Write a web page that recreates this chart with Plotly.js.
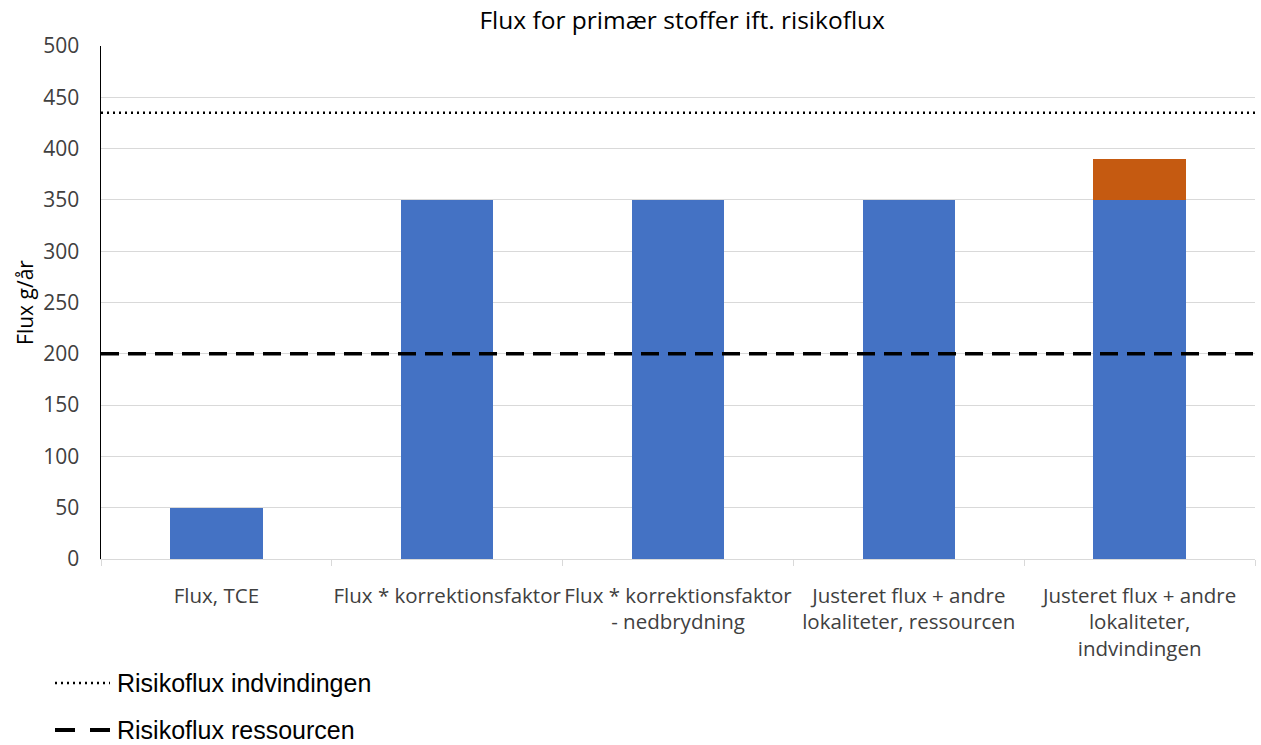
<!DOCTYPE html>
<html>
<head>
<meta charset="utf-8">
<script src="https://cdn.plot.ly/plotly-3.0.1.min.js"></script>
<style>html,body{margin:0;padding:0;background:#fff;}#chart{width:1261px;height:745px;}</style>
</head>
<body>
<div id="chart"></div>
<script>
const categories = [
  "Flux, TCE",
  "Flux * korrektionsfaktor",
  "Flux * korrektionsfaktor<br>- nedbrydning",
  "Justeret flux + andre<br>lokaliteter, ressourcen",
  "Justeret flux + andre<br>lokaliteter,<br>indvindingen"
];
const fluxValues = [50, 350, 350, 350, 350];
const extraValues = [0, 0, 0, 0, 40];
const risikofluxIndvindingen = 435;
const risikofluxRessourcen = 200;
const yTicks = [0, 50, 100, 150, 200, 250, 300, 350, 400, 450, 500];
const lineNames = ["Risikoflux indvindingen", "Risikoflux ressourcen"];

const FONT = "'Open Sans', 'Noto Sans', sans-serif";
const catFont = {family: FONT, size: 20.5, color: "#404040"};
const dotStyle = {color: "#000", width: 2.5, dash: "2px,4px"};
const dashStyle = {color: "#000", width: 3.5, dash: "18px,9px"};

const traces = [
  {type: "bar", x: categories, y: fluxValues, marker: {color: "#4472C4"}, width: 0.4, showlegend: false, hoverinfo: "y"},
  {type: "bar", x: categories, y: extraValues, marker: {color: "#C55A11"}, width: 0.4, showlegend: false, hoverinfo: "y"},
  {type: "scatter", mode: "lines", xaxis: "x2", yaxis: "y",
   x: [0, 1], y: [risikofluxIndvindingen, risikofluxIndvindingen],
   line: dotStyle, name: lineNames[0], showlegend: false},
  {type: "scatter", mode: "lines", xaxis: "x2", yaxis: "y",
   x: [0, 1], y: [risikofluxRessourcen, risikofluxRessourcen],
   line: dashStyle, name: lineNames[1], showlegend: false}
];

// Legend drawn below the plot (paper coordinates: plot spans x 101..1255 px, y 46..559 px)
const PW = 1154, PH = 513, PL = 101, PB = 559;
const px = v => (v - PL) / PW;
const py = v => (PB - v) / PH;
const legendRows = [683, 730];
const legendShapes = [
  {type: "line", xref: "paper", yref: "paper", x0: px(55), x1: px(110), y0: py(legendRows[0]), y1: py(legendRows[0]),
   line: {color: "#000", width: 2.5, dash: "2px,4px"}},
  {type: "line", xref: "paper", yref: "paper", x0: px(55), x1: px(110), y0: py(legendRows[1]), y1: py(legendRows[1]),
   line: {color: "#000", width: 4, dash: "20px,15px"}}
];
const legendAnnotations = lineNames.map((n, i) => ({
  text: n, xref: "paper", yref: "paper", x: px(115), y: py(legendRows[i]),
  xanchor: "left", yanchor: "middle", showarrow: false,
  font: {family: "'Liberation Sans', Arial, sans-serif", size: 25, color: "#000"}
}));

const layout = {
  width: 1261, height: 745,
  margin: {l: 101, r: 6, t: 46, b: 186},
  paper_bgcolor: "#fff", plot_bgcolor: "#fff",
  barmode: "stack",
  showlegend: false,
  title: {text: "Flux for primær stoffer ift. risikoflux", x: 0.541, xanchor: "center", y: 0.973, yanchor: "middle",
          font: {family: FONT, size: 24.5, color: "#000"}},
  xaxis: {type: "category", tickfont: catFont, showgrid: false, tickangle: 0,
          showline: true, linecolor: "#d9d9d9", linewidth: 1,
          ticks: "outside", tickson: "boundaries", ticklen: 6, tickcolor: "#d9d9d9",
          ticklabelstandoff: 18,
          fixedrange: true, automargin: false},
  xaxis2: {overlaying: "x", range: [0, 1], visible: false, fixedrange: true},
  yaxis: {range: [0, 500], tickvals: yTicks, tickfont: {family: FONT, size: 21, color: "#404040"},
          showgrid: true, gridcolor: "#d9d9d9", gridwidth: 1, zeroline: false,
          showline: true, linecolor: "#000", linewidth: 1.5, ticks: "", ticklabelstandoff: 16,
          title: {text: "Flux g/år", font: {family: FONT, size: 21, color: "#000"}, standoff: 4},
          fixedrange: true, automargin: false},
  shapes: legendShapes,
  annotations: legendAnnotations,
  bargap: 0.6
};

Plotly.newPlot("chart", traces, layout, {displayModeBar: false, staticPlot: true});
</script>
</body>
</html>
